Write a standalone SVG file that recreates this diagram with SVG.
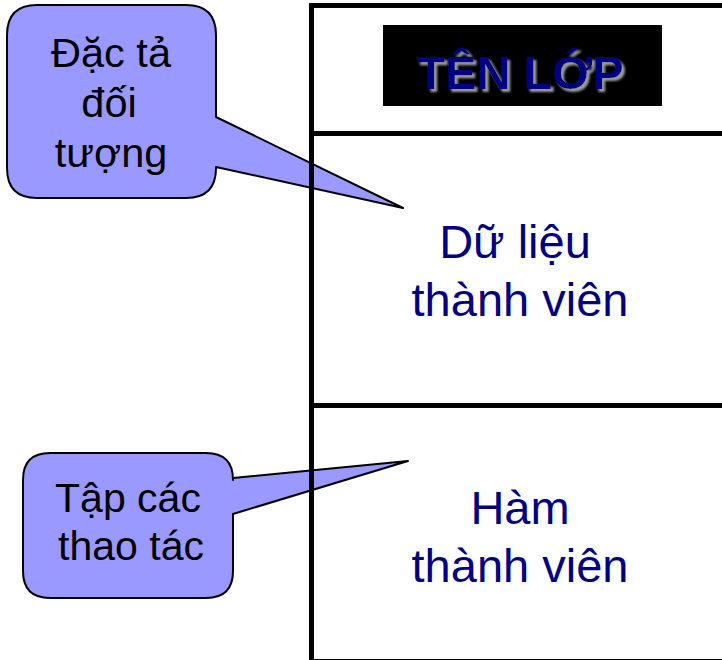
<svg xmlns="http://www.w3.org/2000/svg" width="722" height="660" viewBox="0 0 722 660">
  <style>
    .callout { fill: #9999FF; stroke: #000000; stroke-width: 2; stroke-linejoin: round; }
    .callout-text { font-family: "Liberation Sans", Arial, sans-serif; fill: #000000; text-anchor: middle; }
    .member { font-family: "Liberation Sans", Arial, sans-serif; font-size: 47px; fill: #000080; text-anchor: middle; }
    .frame { fill: none; stroke: #000000; stroke-width: 5; }
    .title { font-family: "Liberation Sans", Arial, sans-serif; font-size: 47px; font-weight: bold; text-anchor: middle; fill: #000080; }
  </style>
  <defs>
    <!-- soft grey shadow behind the class name -->
    <filter id="shadow" x="-10%" y="-30%" width="120%" height="160%">
      <feGaussianBlur in="SourceAlpha" stdDeviation="1.2" result="blur"/>
      <feOffset in="blur" dx="3" dy="3" result="off"/>
      <feFlood flood-color="#9a9a9a"/>
      <feComposite in2="off" operator="in" result="grey"/>
      <feMerge>
        <feMergeNode in="grey"/>
        <feMergeNode in="SourceGraphic"/>
      </feMerge>
    </filter>
  </defs>

  <rect x="0" y="0" width="722" height="660" fill="#ffffff"/>

  <!-- callout: object description -->
  <g id="callout-spec">
    <path class="callout" d="M37,5 H186 Q216,5 216,35 V117 L403,208 L216,167 V168 Q216,198 186,198 H37 Q7,198 7,168 V35 Q7,5 37,5 Z"/>
    <text class="callout-text" font-size="41.5" x="111" y="67">Đặc tả</text>
    <text class="callout-text" font-size="41.5" x="109" y="117">đối</text>
    <text class="callout-text" font-size="41.5" x="111" y="167">tượng</text>
  </g>

  <!-- callout: set of operations -->
  <g id="callout-ops">
    <path class="callout" d="M50,453 H206 Q233,453 233,480 V478 L408,461 L233,514 V571 Q233,598 206,598 H50 Q23,598 23,571 V480 Q23,453 50,453 Z"/>
    <text class="callout-text" font-size="41" x="128" y="512">Tập các</text>
    <text class="callout-text" font-size="41" x="131" y="560">thao tác</text>
  </g>

  <!-- class box with its three compartments -->
  <g id="class-box">
    <rect class="frame" x="311.5" y="5.5" width="430" height="656"/>
    <line class="frame" x1="311.5" y1="133.5" x2="722" y2="133.5"/>
    <line class="frame" x1="311.5" y1="405.5" x2="722" y2="405.5"/>
  </g>

  <g id="class-name">
    <rect x="383" y="25" width="279" height="81" fill="#000000"/>
    <text class="title" x="520" y="89" filter="url(#shadow)">TÊN LỚP</text>
  </g>

  <g id="data-members">
    <text class="member" x="515" y="258">Dữ liệu</text>
    <text class="member" x="520" y="316">thành viên</text>
  </g>

  <g id="member-functions">
    <text class="member" x="520" y="524">Hàm</text>
    <text class="member" x="520" y="582">thành viên</text>
  </g>
</svg>
